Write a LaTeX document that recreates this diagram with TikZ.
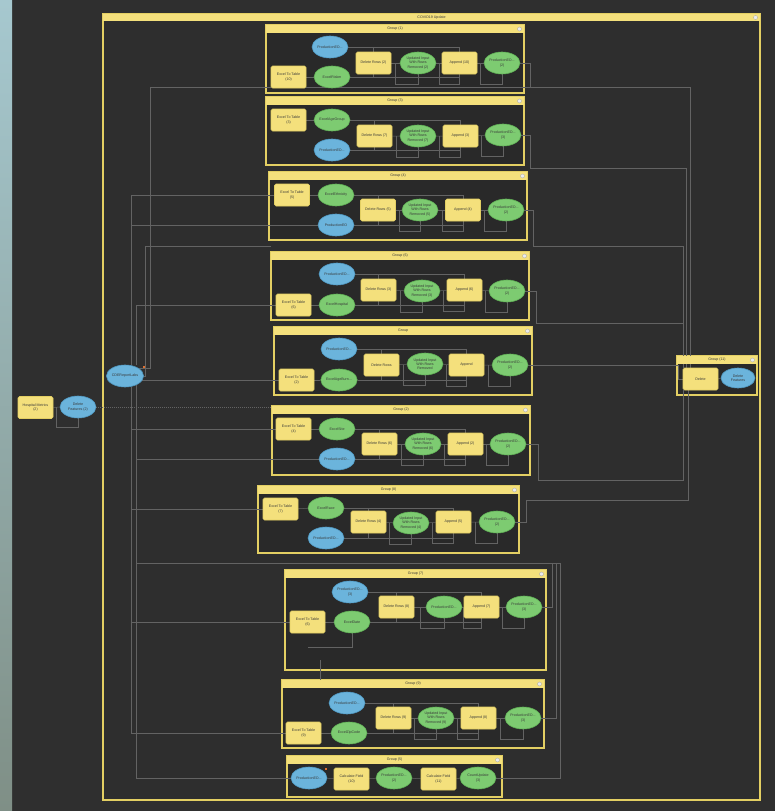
\documentclass[tikz,border=0pt]{standalone}
\usepackage{fontspec}
\setmainfont{Liberation Sans}
\usetikzlibrary{shapes.geometric,calc}
\pgfdeclarelayer{frames}
\pgfdeclarelayer{wires}
\pgfsetlayers{frames,wires,main}
\definecolor{bg}{HTML}{2F2F2F}
\definecolor{outerin}{HTML}{2E2E2E}
\definecolor{ginner}{HTML}{292929}
\definecolor{yfill}{HTML}{F4E07C}
\definecolor{ybord}{HTML}{E3CF63}
\definecolor{gfill}{HTML}{7DCB71}
\definecolor{gbord}{HTML}{5FAE55}
\definecolor{bfill}{HTML}{6BB4DC}
\definecolor{bbord}{HTML}{4F97C0}
\definecolor{wirec}{HTML}{636363}
\definecolor{txt}{HTML}{3A3A3A}
\definecolor{lblue}{HTML}{A6C8CF}
\definecolor{lgreen}{HTML}{7F8F86}
\definecolor{odotc}{HTML}{E07030}
\tikzset{
 wire/.style={draw=wirec, line width=0.5pt},
 ybox/.style={rectangle, rounded corners=1.5pt, draw=ybord, line width=0.6pt, fill=yfill, minimum width=35pt, minimum height=22pt, inner sep=0.5pt, align=center, text=txt},
 gell/.style={ellipse, draw=gbord, line width=0.6pt, fill=gfill, minimum width=36pt, minimum height=22pt, inner sep=0pt, align=center, text=txt},
 bell/.style={gell, draw=bbord, fill=bfill},
 gframe/.style={rectangle, draw=ybord, line width=1.5pt, fill=ginner, inner sep=0pt, outer sep=0pt},
 gbar/.style={rectangle, fill=yfill, minimum height=8pt, inner sep=0pt, outer sep=0pt, text=txt},
 gicon/.style={circle, draw=gray!70, fill=gray!15, line width=0.3pt, minimum size=4pt, inner sep=0pt},
 odot/.style={rectangle, fill=odotc, minimum size=2.5pt, inner sep=0pt},
}
\newcommand\mgrp[6]{%
 \begin{pgfonlayer}{frames}
 \node[gframe, anchor=north west, minimum width=#4pt, minimum height=#5pt] (#1) at (#2,#3) {};
 \end{pgfonlayer}
 \node[gbar, anchor=north west, minimum width=#4pt] (#1t) at (#2,#3) {#6};
 \node[gicon] (#1i) at ($(#1.north east)+(-4.5,4)$) {};
}
\newcommand\gwires[8]{%
 \begin{pgfonlayer}{wires}
 \draw[wire] (#1) -- (#2);
 \draw[wire] (#3.east) -| (#5.north);
 \draw[wire] (#3.east) -| (#7.north);
 \draw[wire] (#4.east) -| (#5.south);
 \draw[wire] (#4.east) -| (#7.south);
 \draw[wire] (#5) -- (#6) -- (#7) -- (#8);
 \draw[wire] ($(#5.east)!.5!(#6.west)$) |- ($(#6.south)+(0,10)$) -- (#6.south);
 \draw[wire] ($(#6.east)!.5!(#7.west)$) |- ($(#7.south)+(0,10)$) -- (#7.south);
 \draw[wire] ($(#7.east)!.5!(#8.west)$) |- ($(#8.south)+(0,10)$) -- (#8.south);
 \end{pgfonlayer}}
\begin{document}
\begin{tikzpicture}[x=1pt,y=-1pt, font=\fontsize{3.6}{4.2}\selectfont]
\begin{pgfonlayer}{frames}
\fill[bg] (0,0) rectangle (775,811);
\shade[top color=lblue, bottom color=lgreen] (0,0) rectangle (12,811);
\end{pgfonlayer}
\useasboundingbox (0,0) rectangle (775,811);

% outer group
\begin{pgfonlayer}{frames}
\node[gframe, fill=outerin, line width=1.8pt, anchor=north west, minimum width=657pt, minimum height=786pt] (G) at (103,14) {};
\end{pgfonlayer}
\node[gbar, minimum height=7pt, anchor=north west, minimum width=657pt] (Gt) at (103,14) {COVID19 Update};
\node[gicon] (Gi) at ($(G.north east)+(-4.5,3.5)$) {};

% left side
\node[ybox] (hm) at (35.5,407.5) {Hospital Metrics\\(2)};
\node[bell] (df2) at (78,407) {Delete\\Features (2)};
\node[bell] (rep) at (125,376) {CDEReportLabs};
\node[odot] (o1) at (144,367) {};
\coordinate (dfend) at (272,407);

% Group (1)
\mgrp{G1}{266}{25}{258}{68}{Group (1)}
\node[ybox] (e1) at (288.5,77) {Excel To Table\\(10)};
\node[bell] (b1) at (330,47) {ProductionEO...};
\node[gell] (i1) at (332,77) {ExcelRiskm};
\node[ybox] (d1) at (373.5,63) {Delete Rows (2)};
\node[gell] (u1) at (418,63) {Updated Input\\With Rows\\Removed (2)};
\node[ybox] (a1) at (459.5,63) {Append (10)};
\node[gell] (p1) at (502,63) {ProductionEO...\\(2)};
\gwires{e1}{i1}{b1}{i1}{d1}{u1}{a1}{p1}

% Group (3)
\mgrp{G3}{266}{97}{258}{68}{Group (3)}
\node[ybox] (e3) at (288.5,120) {Excel To Table\\(3)};
\node[gell] (i3) at (332,120) {ExcelAgeGroup};
\node[bell] (b3) at (332,150) {ProductionEO...};
\node[ybox] (d3) at (374.5,136) {Delete Rows (7)};
\node[gell] (u3) at (418,136) {Updated Input\\With Rows\\Removed (7)};
\node[ybox] (a3) at (460.5,136) {Append (3)};
\node[gell] (p3) at (503,135) {ProductionEO...\\(3)};
\gwires{e3}{i3}{i3}{b3}{d3}{u3}{a3}{p3}

% Group (4)
\mgrp{G4}{269}{172}{258}{68}{Group (4)}
\node[ybox] (e4) at (292,195) {Excel To Table\\(5)};
\node[gell] (i4) at (336,195) {ExcelEthnicity};
\node[bell] (b4) at (336,225) {ProductionEO};
\node[ybox] (d4) at (378,210) {Delete Rows (5)};
\node[gell] (u4) at (420,210) {Updated Input\\With Rows\\Removed (5)};
\node[ybox] (a4) at (463,210) {Append (4)};
\node[gell] (p4) at (506,210) {ProductionEO...\\(2)};
\gwires{e4}{i4}{i4}{b4}{d4}{u4}{a4}{p4}

% Group (6)
\mgrp{G6}{271}{252}{258}{68}{Group (6)}
\node[bell] (b6) at (337,274) {ProductionEO...};
\node[ybox] (e6) at (293.5,305) {Excel To Table\\(6)};
\node[gell] (i6) at (337,305) {ExcelHospital};
\node[ybox] (d6) at (378.5,290) {Delete Rows (3)};
\node[gell] (u6) at (422,291) {Updated Input\\With Rows\\Removed (3)};
\node[ybox] (a6) at (464.5,290) {Append (6)};
\node[gell] (p6) at (507,291) {ProductionEO...\\(2)};
\gwires{e6}{i6}{b6}{i6}{d6}{u6}{a6}{p6}

% Group
\mgrp{G0}{274}{327}{258}{68}{Group}
\node[bell] (b0) at (339,349) {ProductionEO...};
\node[ybox] (e0) at (296.5,380) {Excel To Table\\(2)};
\node[gell] (i0) at (339,380) {ExcelAgeBurn...};
\node[ybox] (d0) at (381.5,365) {Delete Rows};
\node[gell] (u0) at (425,364) {Updated Input\\With Rows\\Removed};
\node[ybox] (a0) at (466.5,365) {Append};
\node[gell] (p0) at (510,365) {ProductionEO...\\(2)};
\gwires{e0}{i0}{b0}{i0}{d0}{u0}{a0}{p0}

% Group (2)
\mgrp{G2}{272}{406}{258}{69}{Group (2)}
\node[ybox] (e2) at (293.5,429) {Excel To Table\\(4)};
\node[gell] (i2) at (337,429) {ExcelSite};
\node[bell] (b2) at (337,459) {ProductionEO...};
\node[ybox] (d2) at (379.5,444) {Delete Rows (6)};
\node[gell] (u2) at (423,444) {Updated Input\\With Rows\\Removed (6)};
\node[ybox] (a2) at (465.5,444) {Append (2)};
\node[gell] (p2) at (508,444) {ProductionEO...\\(2)};
\gwires{e2}{i2}{i2}{b2}{d2}{u2}{a2}{p2}

% Group (8)
\mgrp{G8}{258}{486}{261}{67}{Group (8)}
\node[ybox] (e8) at (280.5,509) {Excel To Table\\(7)};
\node[gell] (i8) at (326,508) {ExcelRace};
\node[bell] (b8) at (326,538) {ProductionEO...};
\node[ybox] (d8) at (368.5,522) {Delete Rows (4)};
\node[gell] (u8) at (411,523) {Updated Input\\With Rows\\Removed (4)};
\node[ybox] (a8) at (453.5,522) {Append (5)};
\node[gell] (p8) at (497,522) {ProductionEO...\\(2)};
\gwires{e8}{i8}{i8}{b8}{d8}{u8}{a8}{p8}

% Group (7)
\mgrp{G7}{285}{570}{261}{100}{Group (7)}
\node[bell] (b7) at (350,592) {ProductionEO...\\(3)};
\node[ybox] (e7) at (307.5,622) {Excel To Table\\(6)};
\node[gell] (i7) at (352,622) {ExcelDate};
\node[ybox] (d7) at (396.5,607) {Delete Rows (8)};
\node[gell] (q7) at (444,607) {ProductionEO...};
\node[ybox] (a7) at (481.5,607) {Append (7)};
\node[gell] (p7) at (524,607) {ProductionEO...\\(3)};
\gwires{e7}{i7}{b7}{i7}{d7}{q7}{a7}{p7}

% Group (9)
\mgrp{G9}{282}{680}{262}{68}{Group (9)}
\node[bell] (b9) at (347,703) {ProductionEO...};
\node[ybox] (e9) at (303.5,733) {Excel To Table\\(9)};
\node[gell] (i9) at (349,733) {ExcelZipCode};
\node[ybox] (d9) at (393.5,718) {Delete Rows (9)};
\node[gell] (u9) at (436,718) {Updated Input\\With Rows\\Removed (9)};
\node[ybox] (a9) at (478.5,718) {Append (8)};
\node[gell] (p9) at (523,718) {ProductionEO...\\(3)};
\gwires{e9}{i9}{b9}{i9}{d9}{u9}{a9}{p9}

% Group (5)
\mgrp{G5}{287}{756}{215}{41}{Group (5)}
\node[bell] (b5) at (309,778) {ProductionEO...};
\node[odot] (o2) at (326,769) {};
\node[ybox] (c10) at (351.5,779) {Calculate Field\\(10)};
\node[gell] (q5) at (394,778) {ProductionEO...\\(2)};
\node[ybox] (c11) at (438.5,779) {Calculate Field\\(11)};
\node[gell] (cu) at (478,778) {CountUpdate\\(3)};

% Group (11)
\mgrp{G11}{677}{356}{80}{39}{Group (11)}
\node[ybox] (del11) at (700.5,379) {Delete};
\node[bell, minimum width=34pt, minimum height=20pt] (df11) at (738,378) {Delete\\Features};

\begin{pgfonlayer}{wires}
\draw[wire] (hm) -- (df2);
\draw[wire] ($(hm.east)!.5!(df2.west)$) |- ($(df2.south)+(0,9)$) -- (df2.south);
\draw[wire, dash pattern=on 1pt off 1pt] (df2.east) -- (dfend);
\draw[wire] (b5) -- (c10) -- (q5) -- (c11) -- (cu);
\draw[wire] (del11) -- (df11);
% left trunks
\draw[wire] (rep.north east) -| (150,87) -| ([xshift=-10pt]del11.north);
\draw[wire] ([xshift=6pt]rep.north) |- (e4.west);
\draw[wire] ([xshift=11pt]rep.north) |- (e6.west);
\draw[wire] ([xshift=6pt]rep.north) |- (b4.west);
\draw[wire] (rep.east) -| (145,246) -- (271,246);
\draw[wire] ([xshift=11pt]rep.south) |- (e0.west);
\draw[wire] ([xshift=6pt]rep.south) |- (e2.west);
\draw[wire] ([xshift=11pt]rep.south) |- (b2.west);
\draw[wire] ([xshift=6pt]rep.south) |- (e8.west);
\draw[wire] ([xshift=6pt]rep.south) |- (e7.west);
\draw[wire] ([xshift=6pt]rep.south) |- (e9.west);
\draw[wire] ([xshift=11pt]rep.south) |- (b5.west);
\draw[wire] ([xshift=11pt]rep.south) |- (560,563) |- (cu.east);
% right routes
\draw[wire] (p1.east) -| (530,87);
\draw[wire] (p3.east) -| (530,168) -| ([xshift=-14pt]del11.north);
\draw[wire] (p4.east) -| (533,246) -| ([xshift=-17.5pt]del11.north);
\draw[wire] (p6.east) -| (536,323) -| ([xshift=-17.5pt]del11.north);
\draw[wire] (p0.east) -- ++(150,0) |- (del11.west);
\draw[wire] (p2.east) -| (538,480) -| ([xshift=-17.5pt]del11.south);
\draw[wire] (p8.east) -| (526,500) -| ([xshift=-12pt]del11.south);
\draw[wire] (p7.east) -| (552,563);
\draw[wire] (p9.east) -| (556,563);
\draw[wire] (i7.south) |- ($(e7.south)+(0,14)$);
\draw[wire] ($(G7.south west)+(35,-10)$) -| ($(G7.south west)+(35,10)$);
\end{pgfonlayer}
\end{tikzpicture}
\end{document}
